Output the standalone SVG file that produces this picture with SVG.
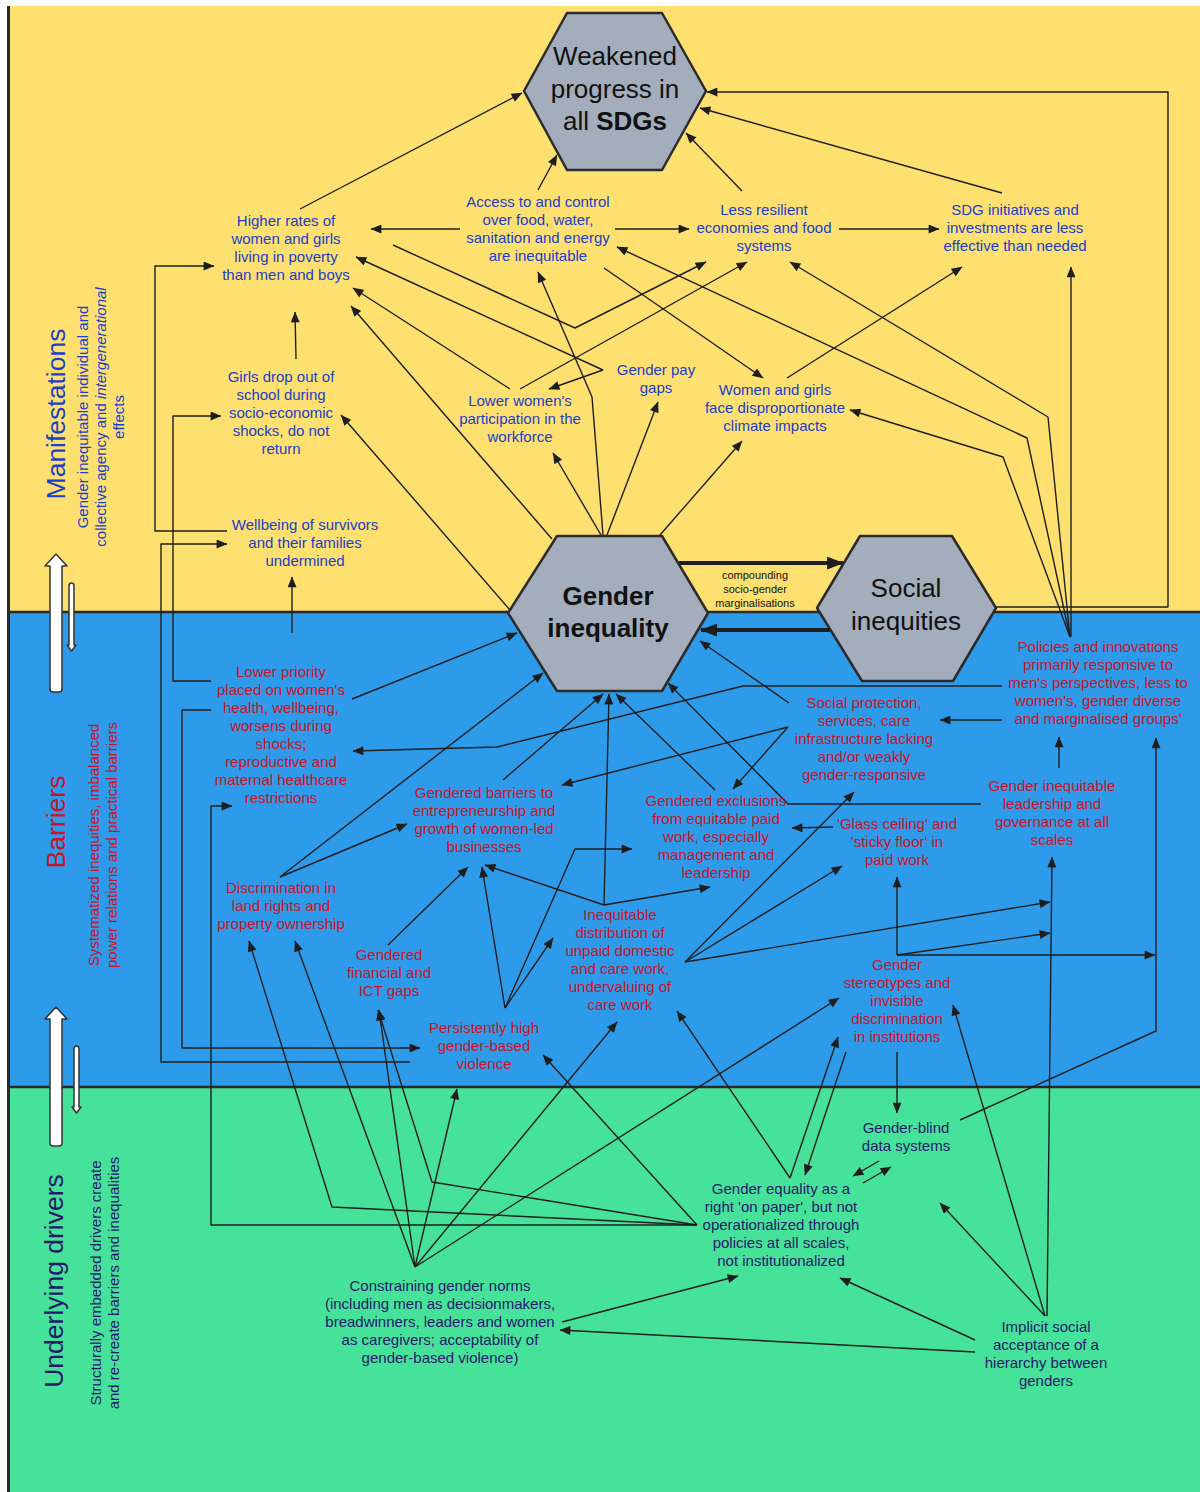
<svg xmlns="http://www.w3.org/2000/svg" width="1200" height="1492" viewBox="0 0 1200 1492">
<defs>
  <marker id="arr" viewBox="0 0 12 10" refX="11.5" refY="5" markerWidth="12" markerHeight="9" markerUnits="userSpaceOnUse" orient="auto">
    <path d="M0,0 L12,5 L0,10 Z" fill="#1e1e1e"/>
  </marker>
  <marker id="arrBig" viewBox="0 0 16 12" refX="15" refY="6" markerWidth="17" markerHeight="13" markerUnits="userSpaceOnUse" orient="auto">
    <path d="M0,0 L16,6 L0,12 Z" fill="#1e1e1e"/>
  </marker>
</defs>
<style>
  text{font-family:"Liberation Sans",Arial,Helvetica,sans-serif}
  .ln{fill:none;stroke:#1e1e1e;stroke-width:1.4;stroke-linejoin:round;marker-end:url(#arr)}
  .thick{fill:none;stroke:#1e1e1e;stroke-width:4;marker-end:url(#arrBig)}
  .sep{stroke:#2a2a2a;stroke-width:2.5}
  .hex{fill:#a3adbb;stroke:#2b2b2b;stroke-width:2.5;stroke-linejoin:round}
  .hx{fill:#111;font-size:26px;text-anchor:middle}
  .m{fill:#1b3ecb;font-size:15px;text-anchor:middle}
  .b{fill:#cc1226;font-size:15px;text-anchor:middle}
  .u{fill:#23196b;font-size:15px;text-anchor:middle}
  .ttl{font-size:26.5px;text-anchor:middle}
  .sub{font-size:15px;text-anchor:middle}
  .wa{fill:#fff;stroke:#333;stroke-width:1.5;stroke-linejoin:round}
  .note{fill:#111;font-size:11px;text-anchor:middle}
</style>

<!-- three horizontal bands -->
<g id="bands">
  <rect x="8" y="6" width="1192" height="606" fill="#fee070"/>
  <rect x="8" y="612" width="1192" height="475" fill="#2e9bea"/>
  <rect x="8" y="1087" width="1192" height="405" fill="#47e29a"/>
  <line class="sep" x1="8" y1="612" x2="1200" y2="612"/>
  <line class="sep" x1="8" y1="1087" x2="1200" y2="1087"/>
  <line x1="8.5" y1="6" x2="8.5" y2="1492" stroke="#2a2a2a" stroke-width="3"/>
</g>

<!-- band titles -->
<g id="band-labels">
  <text class="ttl" fill="#1b3ecb" transform="translate(65,414) rotate(-90)">Manifestations</text>
  <text class="sub" fill="#1b3ecb" transform="translate(88,417) rotate(-90)"><tspan x="0" y="0">Gender inequitable individual and</tspan><tspan x="0" y="18">collective agency and <tspan font-style="italic">intergenerational</tspan></tspan><tspan x="0" y="36">effects</tspan></text>
  <text class="ttl" fill="#cc1226" transform="translate(65,822) rotate(-90)">Barriers</text>
  <text class="sub" fill="#cc1226" transform="translate(99,845) rotate(-90)"><tspan x="0" y="0">Systematized inequities, imbalanced</tspan><tspan x="0" y="18">power relations and practical barriers</tspan></text>
  <text class="ttl" fill="#23196b" transform="translate(63,1281) rotate(-90)">Underlying drivers</text>
  <text class="sub" fill="#23196b" transform="translate(101,1283) rotate(-90)"><tspan x="0" y="0">Structurally embedded drivers create</tspan><tspan x="0" y="18">and re-create barriers and inequalities</tspan></text>
</g>

<!-- white up/down flow arrows -->
<g id="flow-arrows">
  <path class="wa" d="M50,689 L50,566 L45,566 L56,554 L67,566 L62,566 L62,689 Q62,692 59,692 L53,692 Q50,692 50,689 Z"/>
  <path class="wa" d="M69,586 Q69,583 71.5,583 Q74,583 74,586 L74,645 L76,645 L71.5,651 L67,645 L69,645 Z"/>
  <path class="wa" d="M50,1143 L50,1019 L45,1019 L56,1007 L67,1019 L62,1019 L62,1143 Q62,1146 59,1146 L53,1146 Q50,1146 50,1143 Z"/>
  <path class="wa" d="M74,1049 Q74,1046 76.5,1046 Q79,1046 79,1049 L79,1107 L81,1107 L76.5,1113 L72,1107 L74,1107 Z"/>
</g>

<!-- connectors -->
<g id="connectors">
  <!-- into the SDG hexagon -->
  <path class="ln" d="M300,209 L522,93"/>
  <path class="ln" d="M538,190 L557,155"/>
  <path class="ln" d="M742,191 L686,133"/>
  <path class="ln" d="M1002,193 L700,108"/>
  <path class="ln" d="M996,607 L1168,607 L1168,92 L707,92"/>
  <!-- manifestations band -->
  <path class="ln" d="M460,229 L371,229"/>
  <path class="ln" d="M615,229 L689,229"/>
  <path class="ln" d="M839,229 L939,229"/>
  <path class="ln" d="M393,245 L575,328 L706,262"/>
  <path class="ln" d="M603,370 L356,257"/>
  <path class="ln" d="M603,370 L549,389"/>
  <path class="ln" d="M510,389 L353,288"/>
  <path class="ln" d="M520,389 L747,262"/>
  <path class="ln" d="M604,268 L763,378"/>
  <path class="ln" d="M1070,637 L1027,438 L617,247"/>
  <path class="ln" d="M1070,637 L1048,417 L790,262"/>
  <path class="ln" d="M1070,637 L1003,457 L850,410"/>
  <path class="ln" d="M1071,637 L1071,267"/>
  <path class="ln" d="M787,378 L962,267"/>
  <path class="ln" d="M603,535 L592,397 L538,272"/>
  <path class="ln" d="M601,535 L553,453"/>
  <path class="ln" d="M607,535 L658,402"/>
  <path class="ln" d="M660,535 L742,441"/>
  <path class="ln" d="M552,539 L351,306"/>
  <path class="ln" d="M510,610 L341,415"/>
  <path class="ln" d="M296,359 L295,312"/>
  <path class="ln" d="M227,531 L155,531 L155,266 L214,266"/>
  <path class="ln" d="M292,633 L292,577"/>
  <!-- between the two central hexagons -->
  <path class="thick" d="M679,563 L843,563"/>
  <path class="thick" d="M830,630 L701,630"/>
  <!-- barriers band -->
  <path class="ln" d="M211,681 L173,681 L173,416 L221,416"/>
  <path class="ln" d="M211,710 L182,710 L182,1048 L420,1048"/>
  <path class="ln" d="M410,1062 L161,1062 L161,544 L227,544"/>
  <path class="ln" d="M697,1225 L211,1225 L211,806 L232,806"/>
  <path class="ln" d="M352,699 L517,633"/>
  <path class="ln" d="M1002,686 L743,686 L497,747 L353,751"/>
  <path class="ln" d="M788,727 L562,785"/>
  <path class="ln" d="M788,727 L733,789"/>
  <path class="ln" d="M789,703 L700,641"/>
  <path class="ln" d="M981,804 L788,804 L668,683"/>
  <path class="ln" d="M715,790 L616,694"/>
  <path class="ln" d="M503,780 L603,694"/>
  <path class="ln" d="M604,905 L609,694"/>
  <path class="ln" d="M604,905 L485,865"/>
  <path class="ln" d="M604,905 L710,887"/>
  <path class="ln" d="M280,877 L543,673"/>
  <path class="ln" d="M280,877 L407,824"/>
  <path class="ln" d="M388,945 L468,867"/>
  <path class="ln" d="M505,1008 L482,867"/>
  <path class="ln" d="M505,1008 L575,849 L632,849"/>
  <path class="ln" d="M505,1008 L553,938"/>
  <path class="ln" d="M685,962 L854,792"/>
  <path class="ln" d="M685,962 L842,866"/>
  <path class="ln" d="M685,962 L1050,902"/>
  <path class="ln" d="M833,827 L792,828"/>
  <path class="ln" d="M1002,720 L940,720"/>
  <path class="ln" d="M1059,768 L1059,737"/>
  <path class="ln" d="M897,955 L897,877"/>
  <path class="ln" d="M897,955 L1050,933"/>
  <path class="ln" d="M897,955 L1155,955"/>
  <path class="ln" d="M960,1120 L1156,1031 L1156,738"/>
  <!-- underlying drivers band -->
  <path class="ln" d="M897,1052 L897,1113"/>
  <path class="ln" d="M790,1178 L838,1037"/>
  <path class="ln" d="M846,1052 L805,1175"/>
  <path class="ln" d="M879,1161 L853,1176"/>
  <path class="ln" d="M863,1183 L891,1167"/>
  <path class="ln" d="M790,1178 L677,1011"/>
  <path class="ln" d="M697,1225 L543,1055"/>
  <path class="ln" d="M697,1225 L332,1207 L249,941"/>
  <path class="ln" d="M697,1225 L432,1182 L378,1010"/>
  <path class="ln" d="M415,1267 L295,941"/>
  <path class="ln" d="M415,1267 L379,1010"/>
  <path class="ln" d="M415,1267 L457,1089"/>
  <path class="ln" d="M415,1267 L617,1022"/>
  <path class="ln" d="M415,1267 L839,998"/>
  <path class="ln" d="M562,1322 L738,1276"/>
  <path class="ln" d="M975,1352 L560,1330"/>
  <path class="ln" d="M975,1340 L840,1278"/>
  <path class="ln" d="M1045,1316 L940,1203"/>
  <path class="ln" d="M1045,1316 L953,1005"/>
  <path class="ln" d="M1047,1316 L1052,857"/>
  <text class="note"><tspan x="755" y="579">compounding</tspan><tspan x="755" y="593">socio-gender</tspan><tspan x="755" y="607">marginalisations</tspan></text>
</g>

<!-- hexagon nodes -->
<g id="n-weakened-sdgs">
  <polygon class="hex" points="567,13 662,13 706,91 662,170 567,170 524,91"/>
  <text class="hx"><tspan x="615" y="65">Weakened</tspan><tspan x="615" y="98">progress in</tspan><tspan x="615" y="130">all <tspan font-weight="bold">SDGs</tspan></tspan></text>
</g>
<g id="n-gender-inequality">
  <polygon class="hex" points="557,536 662,536 708,613 662,691 557,691 508,613"/>
  <text class="hx" font-weight="bold"><tspan x="608" y="605">Gender</tspan><tspan x="608" y="637">inequality</tspan></text>
</g>
<g id="n-social-inequities">
  <polygon class="hex" points="860,536 952,536 996,608 953,681 862,681 817,608"/>
  <text class="hx"><tspan x="906" y="597">Social</tspan><tspan x="906" y="630">inequities</tspan></text>
</g>

<!-- manifestations -->
<g id="n-poverty"><text class="m"><tspan x="286" y="226">Higher rates of</tspan><tspan x="286" y="244">women and girls</tspan><tspan x="286" y="262">living in poverty</tspan><tspan x="286" y="280">than men and boys</tspan></text></g>
<g id="n-access"><text class="m"><tspan x="538" y="207">Access to and control</tspan><tspan x="538" y="225">over food, water,</tspan><tspan x="538" y="243">sanitation and energy</tspan><tspan x="538" y="261">are inequitable</tspan></text></g>
<g id="n-resilience"><text class="m"><tspan x="764" y="215">Less resilient</tspan><tspan x="764" y="233">economies and food</tspan><tspan x="764" y="251">systems</tspan></text></g>
<g id="n-sdg-initiatives"><text class="m"><tspan x="1015" y="215">SDG initiatives and</tspan><tspan x="1015" y="233">investments are less</tspan><tspan x="1015" y="251">effective than needed</tspan></text></g>
<g id="n-school"><text class="m"><tspan x="281" y="382">Girls drop out of</tspan><tspan x="281" y="400">school during</tspan><tspan x="281" y="418">socio-economic</tspan><tspan x="281" y="436">shocks, do not</tspan><tspan x="281" y="454">return</tspan></text></g>
<g id="n-workforce"><text class="m"><tspan x="520" y="406">Lower women's</tspan><tspan x="520" y="424">participation in the</tspan><tspan x="520" y="442">workforce</tspan></text></g>
<g id="n-paygap"><text class="m"><tspan x="656" y="375">Gender pay</tspan><tspan x="656" y="393">gaps</tspan></text></g>
<g id="n-climate"><text class="m"><tspan x="775" y="395">Women and girls</tspan><tspan x="775" y="413">face disproportionate</tspan><tspan x="775" y="431">climate impacts</tspan></text></g>
<g id="n-wellbeing"><text class="m"><tspan x="305" y="530">Wellbeing of survivors</tspan><tspan x="305" y="548">and their families</tspan><tspan x="305" y="566">undermined</tspan></text></g>

<!-- barriers -->
<g id="n-health"><text class="b"><tspan x="281" y="677">Lower priority</tspan><tspan x="281" y="695">placed on women's</tspan><tspan x="281" y="713">health, wellbeing,</tspan><tspan x="281" y="731">worsens during</tspan><tspan x="281" y="749">shocks;</tspan><tspan x="281" y="767">reproductive and</tspan><tspan x="281" y="785">maternal healthcare</tspan><tspan x="281" y="803">restrictions</tspan></text></g>
<g id="n-entrepreneurship"><text class="b"><tspan x="484" y="798">Gendered barriers to</tspan><tspan x="484" y="816">entrepreneurship and</tspan><tspan x="484" y="834">growth of women-led</tspan><tspan x="484" y="852">businesses</tspan></text></g>
<g id="n-paid-work"><text class="b"><tspan x="716" y="806">Gendered exclusions</tspan><tspan x="716" y="824">from equitable paid</tspan><tspan x="716" y="842">work, especially</tspan><tspan x="716" y="860">management and</tspan><tspan x="716" y="878">leadership</tspan></text></g>
<g id="n-social-protection"><text class="b"><tspan x="864" y="708">Social protection,</tspan><tspan x="864" y="726">services, care</tspan><tspan x="864" y="744">infrastructure lacking</tspan><tspan x="864" y="762">and/or weakly</tspan><tspan x="864" y="780">gender-responsive</tspan></text></g>
<g id="n-policies"><text class="b"><tspan x="1098" y="652">Policies and innovations</tspan><tspan x="1098" y="670">primarily responsive to</tspan><tspan x="1098" y="688">men's perspectives, less to</tspan><tspan x="1098" y="706">women's, gender diverse</tspan><tspan x="1098" y="724">and marginalised groups'</tspan></text></g>
<g id="n-glass-ceiling"><text class="b"><tspan x="897" y="829">'Glass ceiling' and</tspan><tspan x="897" y="847">'sticky floor' in</tspan><tspan x="897" y="865">paid work</tspan></text></g>
<g id="n-leadership"><text class="b"><tspan x="1052" y="791">Gender inequitable</tspan><tspan x="1052" y="809">leadership and</tspan><tspan x="1052" y="827">governance at all</tspan><tspan x="1052" y="845">scales</tspan></text></g>
<g id="n-land"><text class="b"><tspan x="281" y="893">Discrimination in</tspan><tspan x="281" y="911">land rights and</tspan><tspan x="281" y="929">property ownership</tspan></text></g>
<g id="n-financial"><text class="b"><tspan x="389" y="960">Gendered</tspan><tspan x="389" y="978">financial and</tspan><tspan x="389" y="996">ICT gaps</tspan></text></g>
<g id="n-gbv"><text class="b"><tspan x="484" y="1033">Persistently high</tspan><tspan x="484" y="1051">gender-based</tspan><tspan x="484" y="1069">violence</tspan></text></g>
<g id="n-care-work"><text class="b"><tspan x="620" y="920">Inequitable</tspan><tspan x="620" y="938">distribution of</tspan><tspan x="620" y="956">unpaid domestic</tspan><tspan x="620" y="974">and care work,</tspan><tspan x="620" y="992">undervaluing of</tspan><tspan x="620" y="1010">care work</tspan></text></g>
<g id="n-stereotypes"><text class="b"><tspan x="897" y="970">Gender</tspan><tspan x="897" y="988">stereotypes and</tspan><tspan x="897" y="1006">invisible</tspan><tspan x="897" y="1024">discrimination</tspan><tspan x="897" y="1042">in institutions</tspan></text></g>

<!-- underlying drivers -->
<g id="n-data-systems"><text class="u"><tspan x="906" y="1133">Gender-blind</tspan><tspan x="906" y="1151">data systems</tspan></text></g>
<g id="n-on-paper"><text class="u"><tspan x="781" y="1194">Gender equality as a</tspan><tspan x="781" y="1212">right 'on paper', but not</tspan><tspan x="781" y="1230">operationalized through</tspan><tspan x="781" y="1248">policies at all scales,</tspan><tspan x="781" y="1266">not institutionalized</tspan></text></g>
<g id="n-norms"><text class="u"><tspan x="440" y="1291">Constraining gender norms</tspan><tspan x="440" y="1309">(including men as decisionmakers,</tspan><tspan x="440" y="1327">breadwinners, leaders and women</tspan><tspan x="440" y="1345">as caregivers; acceptability of</tspan><tspan x="440" y="1363">gender-based violence)</tspan></text></g>
<g id="n-hierarchy"><text class="u"><tspan x="1046" y="1332">Implicit social</tspan><tspan x="1046" y="1350">acceptance of a</tspan><tspan x="1046" y="1368">hierarchy between</tspan><tspan x="1046" y="1386">genders</tspan></text></g>
</svg>
